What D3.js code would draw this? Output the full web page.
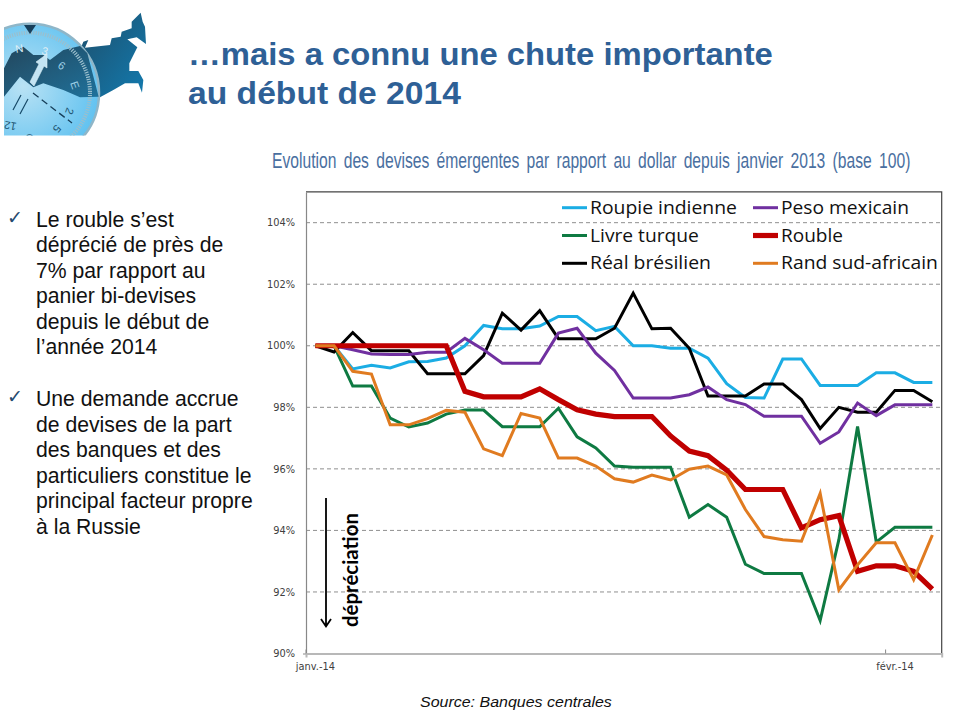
<!DOCTYPE html>
<html lang="fr">
<head>
<meta charset="utf-8">
<style>
html,body{margin:0;padding:0;background:#fff;}
svg{display:block;}
.y-axis text,.x-axis text{font-family:"DejaVu Sans",sans-serif;font-size:9.8px;fill:#404040;}
</style>
<script src="https://cdnjs.cloudflare.com/ajax/libs/d3/7.8.5/d3.min.js"></script>
</head>
<body>
<svg id="c" width="960" height="720" viewBox="0 0 960 720"></svg>
<script>
const days = d3.range(34);
const xTickDays = [0, 31];
const xTickLabels = ["janv.-14", "févr.-14"];
const yTicks = [90, 92, 94, 96, 98, 100, 102, 104];

const roupie = [100,100,99.25,99.37,99.28,99.48,99.49,99.6,100,100.66,100.55,100.55,100.64,100.95,100.95,100.49,100.63,100,100,99.92,99.92,99.6,98.77,98.32,98.3,99.57,99.57,98.71,98.71,98.71,99.12,99.12,98.81,98.81];
const peso = [100,100,99.87,99.73,99.72,99.72,99.79,99.79,100.24,99.87,99.43,99.43,99.43,100.41,100.57,99.76,99.2,98.3,98.3,98.3,98.41,98.66,98.25,98.09,97.71,97.71,97.71,96.83,97.2,98.14,97.73,98.08,98.08,98.08];
const livre = [100,100,98.69,98.69,97.65,97.36,97.49,97.78,97.91,97.91,97.37,97.37,97.37,97.97,97.04,96.68,96.09,96.05,96.05,96.05,94.43,94.84,94.43,92.9,92.6,92.6,92.6,91.07,93.7,97.38,93.62,94.1,94.1,94.1];
const rouble = [100,100,100,100,100,100,100,100,98.52,98.34,98.34,98.34,98.6,98.25,97.92,97.78,97.7,97.7,97.7,97.07,96.58,96.43,95.96,95.33,95.33,95.33,94.08,94.35,94.48,92.67,92.85,92.85,92.67,92.09];
const real = [100,99.8,100.43,99.84,99.84,99.84,99.09,99.09,99.09,99.68,101.06,100.51,101.14,100.23,100.23,100.23,100.57,101.71,100.55,100.57,99.92,98.37,98.37,98.37,98.76,98.76,98.25,97.31,98,97.84,97.84,98.55,98.55,98.18];
const rand = [100,100,99.17,99.08,97.43,97.43,97.63,97.9,97.84,96.65,96.43,97.8,97.65,96.35,96.35,96.09,95.68,95.57,95.8,95.64,95.99,96.09,95.8,94.68,93.8,93.7,93.65,95.2,92.07,92.88,93.6,93.6,92.4,93.85];

const seriesNames = ["Roupie indienne","Livre turque","Réal brésilien","Peso mexicain","Rouble","Rand sud-africain"];
const seriesValues = [roupie, livre, real, peso, rouble, rand];
const seriesColors = ["#1badE4","#0e7a42","#000000","#7030a0","#c00000","#e07b20"];
const seriesWidths = [3,3,3,3,5.2,3];
const legendTextWidths = [147,109,121,128,62,157];

const titleLines = ["…mais a connu une chute importante","au début de 2014"];
const chartTitle = "Evolution des devises émergentes par rapport au dollar depuis janvier 2013 (base 100)";
const bullets = [
  ["Le rouble s’est","déprécié de près de","7% par rapport au","panier bi-devises","depuis le début de","l’année 2014"],
  ["Une demande accrue","de devises de la part","des banques et des","particuliers constitue le","principal facteur propre","à la Russie"]
];
const sourceText = "Source: Banques centrales";
const arrowLabel = "dépréciation";

const svg = d3.select("#c");
const defs = svg.append("defs");

// Squeeze or stretch a text horizontally to a measured width.
function fit(sel, px, py, width, rot) {
  const len = sel.node().getComputedTextLength();
  sel.attr("transform", `translate(${px},${py})${rot ? ` rotate(${rot})` : ""} scale(${width/len},1)`);
  return sel;
}

// ---------- logo
const g1 = defs.append("radialGradient").attr("id","dial").attr("cx",0.45).attr("cy",0.45).attr("r",0.6);
g1.append("stop").attr("offset",0).attr("stop-color","#b9e2f4");
g1.append("stop").attr("offset",1).attr("stop-color","#5cc0f0");
const g2 = defs.append("linearGradient").attr("id","land").attr("x1",0).attr("y1",0).attr("x2",1).attr("y2",1);
g2.append("stop").attr("offset",0).attr("stop-color","#1c3f55");
g2.append("stop").attr("offset",1).attr("stop-color","#1a6d97");
const g3 = defs.append("linearGradient").attr("id","east").attr("x1",0).attr("y1",0).attr("x2",1).attr("y2",1);
g3.append("stop").attr("offset",0).attr("stop-color","#1e4e6a");
g3.append("stop").attr("offset",1).attr("stop-color","#127bb0");
defs.append("clipPath").attr("id","logoClip").append("rect").attr("x",4).attr("y",0).attr("width",160).attr("height",135.5);
const logo = svg.append("g").attr("clip-path","url(#logoClip)");
const area = d3.line().curve(d3.curveLinearClosed);
const third = p => [p[0]/3, p[1]/3];
const russia = [[240,150],[250,125],[265,120],[255,143],[330,135],[335,115],[362,110],[365,95],[395,85],[395,65],[422,38],[428,65],[435,80],[438,132],[410,112],[382,118],[412,142],[388,190],[388,213],[415,213],[430,240],[426,278],[415,250],[375,250],[340,270],[300,292],[270,290]].map(third);
logo.append("path").attr("d",area(russia)).attr("fill","url(#east)");
logo.append("circle").attr("cx",30).attr("cy",92.7).attr("r",69).attr("fill","url(#dial)").attr("stroke","#8fb6c8").attr("stroke-width",2.5);
const land = [[12,205],[35,160],[70,140],[100,165],[130,165],[150,180],[190,150],[240,138],[262,160],[296,290],[240,292],[190,270],[130,250],[100,262],[60,230],[12,290]].map(third);
logo.append("path").attr("d",area(land)).attr("fill","url(#land)").attr("fill-opacity",0.95);
logo.append("circle").attr("cx",30).attr("cy",92.7).attr("r",60).attr("fill","none").attr("stroke","#9bbfcd").attr("stroke-width",4).attr("stroke-dasharray","1.2 1.2");
logo.append("path").attr("d","M24 25 L36 25 L30 34 Z").attr("fill","#173f5a");
logo.append("path").attr("d","M30 82 L39 64 L36 62 L47 54 L47 68 L44 66 L34 86 Z").attr("fill","#c3e4f3").attr("stroke","#dff1f8").attr("stroke-width",0.6);
logo.append("path").attr("d","M33 93 L72 123").attr("stroke","#173f5a").attr("stroke-width",1.3).attr("stroke-dasharray","7 4").attr("fill","none");
logo.append("path").attr("d","M13 110 L21 95 M20 114 L28 99").attr("stroke","#174a68").attr("stroke-width",1.2).attr("fill","none");
[["N",16,53,-10,"#dfeef5"],["3",41,54,15,"#dfeef5"],["6",57,67,35,"#9fd0e6"],["E",70,83,70,"#9fd0e6"],["2",67,107,110,"#1d5572"],["5",56,124,130,"#1d5572"],["S",33,134,175,"#1d5572"],["12",17,123,190,"#1d5572"]].forEach(d=>{
  logo.append("text").attr("transform",`translate(${d[1]},${d[2]}) rotate(${d[3]})`)
    .attr("font-family","Liberation Sans").attr("font-size",11).attr("fill",d[4]).text(d[0]);
});

// ---------- headings
svg.selectAll("text.title").data(titleLines).join("text").attr("class","title")
  .attr("font-family","Liberation Sans").attr("font-weight","bold").attr("font-size",32)
  .attr("fill","#2e6096").text(d=>d)
  .each(function(d,i){ fit(d3.select(this),188,i?104:65,i?273:585); });

fit(svg.append("text")
  .attr("font-family","Liberation Sans").attr("font-size",21.5)
  .attr("word-spacing",4).attr("fill","#4a6f9f").text(chartTitle),272,168,639);

// ---------- side text
const blockTop = [226.8,406];
bullets.forEach((lines,b)=>{
  svg.append("text").attr("x",7).attr("y",blockTop[b]-3)
    .attr("font-family","DejaVu Sans").attr("font-size",19).attr("fill","#24496e").text("✓");
  lines.forEach((t,i)=>{
    svg.append("text").attr("x",36).attr("y",blockTop[b]+i*25.5)
      .attr("font-family","Liberation Sans").attr("font-size",21.2).attr("fill","#111").text(t);
  });
});

// ---------- chart
const x = d3.scaleBand().domain(days).range([306,941.7]);
const y = d3.scaleLinear().domain([90,105]).range([653.5,191.9]);
const plotTop = y(105), plotBottom = y(90), plotLeft = x.range()[0], plotRight = x.range()[1];

const gridG = svg.append("g");
gridG.selectAll("line").data(yTicks.slice(1)).join("line")
  .attr("x1",plotLeft).attr("x2",plotRight).attr("y1",d=>y(d)).attr("y2",d=>y(d))
  .attr("stroke","#8f8f8f").attr("stroke-width",1).attr("stroke-dasharray","4 3");

svg.append("path").attr("d",`M${plotLeft} ${plotTop}H${plotRight}V${plotBottom}`)
  .attr("fill","none").attr("stroke","#444").attr("stroke-width",1.2);

const yAxis = svg.append("g").attr("class","y-axis").attr("transform",`translate(${plotLeft},0)`)
  .call(d3.axisLeft(y).tickValues(yTicks).tickFormat(d=>d+"%").tickSize(0).tickPadding(11));
yAxis.select(".domain").attr("stroke","#888").attr("stroke-width",1.2);
yAxis.selectAll(".tick").filter(d=>d===90).select("line").attr("x2",-3).attr("stroke","#888");

const xAxis = svg.append("g").attr("class","x-axis").attr("transform",`translate(0,${plotBottom})`)
  .call(d3.axisBottom(x).tickValues(xTickDays).tickFormat((d,i)=>xTickLabels[i]).tickSizeOuter(0).tickSize(4).tickPadding(6));
xAxis.select(".domain").attr("stroke","#b8b8b8").attr("stroke-width",2);
xAxis.selectAll(".tick line").attr("x1",-x.bandwidth()/2).attr("x2",-x.bandwidth()/2).attr("y1",0).attr("y2",-4).attr("stroke","#888");

const line = d3.line().x((d,i)=>x(days[i])+x.bandwidth()/2).y(d=>y(d));
svg.append("g").selectAll("path").data(seriesValues).join("path")
  .attr("d",line).attr("fill","none")
  .attr("stroke",(d,i)=>seriesColors[i]).attr("stroke-width",(d,i)=>seriesWidths[i])
  .attr("stroke-linejoin","miter").attr("stroke-linecap","butt");

// ---------- legend
const legX = [562,753], legY = [207.7,235.5,263.3];
seriesNames.forEach((n,i)=>{
  const c = Math.floor(i/3), r = i%3;
  svg.append("line").attr("x1",legX[c]).attr("x2",legX[c]+25).attr("y1",legY[r]).attr("y2",legY[r])
    .attr("stroke",seriesColors[i]).attr("stroke-width",seriesWidths[i]);
  fit(svg.append("text")
    .attr("font-family","Open Sans").attr("font-size",18).attr("fill","#111").text(n),
    legX[c]+28, legY[r]+6, legendTextWidths[i]);
});

// ---------- depreciation arrow
svg.append("path").attr("d","M326 498 V626 M321 619 L326 626.5 L331 619")
  .attr("fill","none").attr("stroke","#000").attr("stroke-width",1.8);
fit(svg.append("text")
  .attr("font-family","Lato").attr("font-weight","bold").attr("font-size",21).attr("fill","#000")
  .text(arrowLabel),358,627,114,-90);

// ---------- source
fit(svg.append("text")
  .attr("font-family","Liberation Sans").attr("font-style","italic").attr("font-size",14.5).attr("fill","#111")
  .text(sourceText),420,707,192);
</script>
</body>
</html>
